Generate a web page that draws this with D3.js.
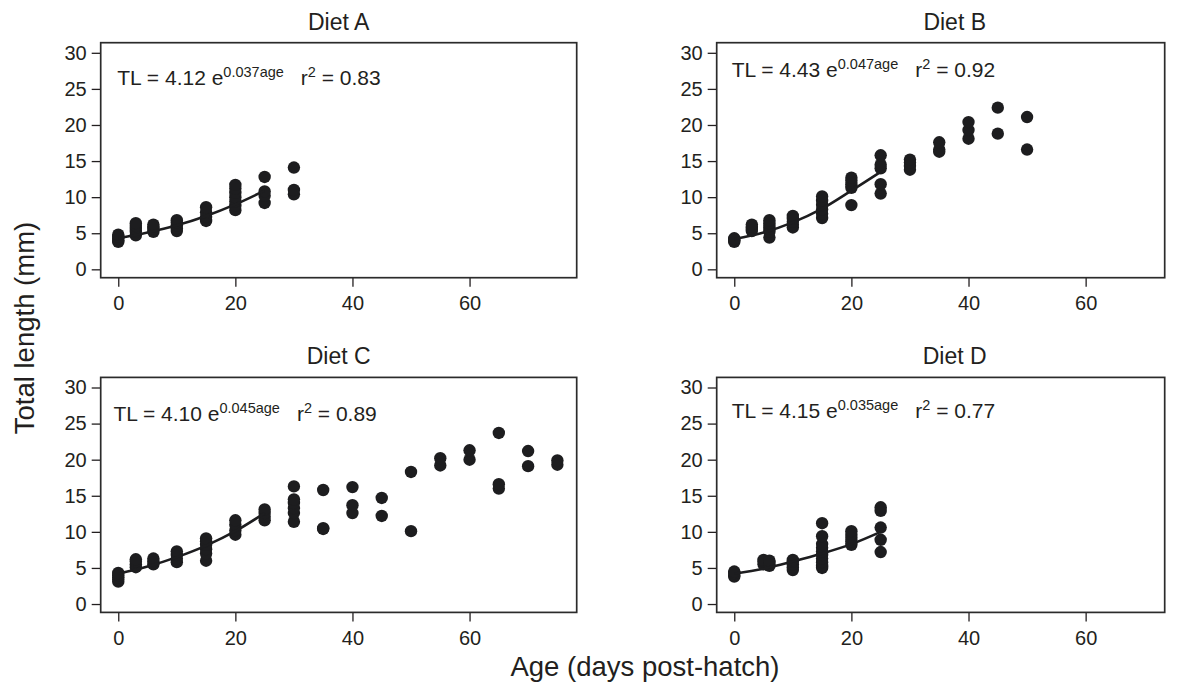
<!DOCTYPE html>
<html>
<head>
<meta charset="utf-8">
<script src="https://cdn.jsdelivr.net/npm/d3@7"></script>
<style>
  body{margin:0;background:#fff}
  svg{display:block;font-family:"Liberation Sans",Arial,Helvetica,sans-serif}
</style>
</head>
<body>
<script>
// ---- data ----
var panelNames = ["Diet A", "Diet B", "Diet C", "Diet D"];
var xTicks = [0, 20, 40, 60];
var yTicks = [0, 5, 10, 15, 20, 25, 30];

var agesA = [0, 3, 6, 10, 15, 20, 25, 30];
var lengthsA = [[3.8,4.0,4.3,4.5,4.8],[4.7,5.2,5.6,6.0,6.4],[5.2,5.6,5.9,6.2],[5.3,5.7,6.1,6.5,6.8],
  [6.7,7.3,7.9,8.6],[8.2,8.8,9.4,10.0,10.6,11.2,11.7],[9.2,10.2,10.8,12.8],[10.4,11.0,14.1]];

var agesB = [0, 3, 6, 10, 15, 20, 25, 30, 35, 40, 45, 50];
var lengthsB = [[3.8,4.0,4.2,4.3],[5.3,5.6,5.9,6.2],[4.4,5.2,5.6,6.0,6.4,6.8],[5.8,6.2,6.6,7.0,7.4],
  [7.1,7.7,8.3,8.9,9.5,10.1],[8.9,11.3,11.8,12.3,12.7],[10.5,11.8,14.0,14.5,15.8],[13.8,14.3,14.8,15.2],
  [16.3,16.6,17.6],[18.1,19.3,20.4],[18.8,22.4],[16.6,21.1]];

var agesC = [0, 3, 6, 10, 15, 20, 25, 30, 35, 40, 45, 50, 55, 60, 65, 70, 75];
var lengthsC = [[3.1,3.4,3.7,4.0,4.3],[5.1,5.5,5.9,6.2],[5.5,5.9,6.3],[5.8,6.3,6.8,7.3],
  [6.0,7.0,7.6,8.2,8.7,9.1],[9.6,10.2,11.0,11.6],[11.6,12.1,12.6,13.1],[11.4,12.6,13.3,14.0,14.5,16.3],
  [10.4,10.5,15.8],[12.6,13.7,16.2],[12.2,14.7],[10.1,18.3],[19.2,20.2],[20.0,21.3],[16.0,16.6,23.7],
  [19.1,21.2],[19.3,19.9]];

var agesD = [0, 5, 6, 10, 15, 20, 25];
var lengthsD = [[3.8,4.0,4.3,4.5],[5.5,5.9,6.1],[5.3,5.7,6.0],[4.7,5.1,5.5,5.9,6.1],
  [5.0,5.3,5.8,6.3,6.8,7.3,7.8,8.3,9.4,11.2],[8.2,8.7,9.2,9.6,10.1],[7.2,8.9,10.6,12.9,13.4]];

// fitted curves as drawn (0-25 days)
var fitAges = [0, 5, 10, 15, 20, 25];
var fitA = [4.3, 5.1, 6.1, 7.4, 9.0, 10.9];
var fitB = [4.2, 5.1, 6.5, 8.4, 10.9, 13.5];
var fitC = [4.2, 5.2, 6.5, 8.1, 10.1, 12.6];
var fitD = [4.2, 4.9, 5.9, 7.0, 8.3, 10.0];

// equation labels: coefficient, exponent, r2
var eqA = ["4.12", "0.037", "0.83"];
var eqB = ["4.43", "0.047", "0.92"];
var eqC = ["4.10", "0.045", "0.89"];
var eqD = ["4.15", "0.035", "0.77"];

// ---- layout ----
var W = 1187, H = 682;
var ink = "#231f20";
var panelH = 235;

var panels = [
  {name: panelNames[0], ages: agesA, lengths: lengthsA, fit: fitA, eq: eqA, left: 100.7, top: 42.7, width: 476, xMax: 78.3, eqX: 16.6, eqY: 42.3},
  {name: panelNames[1], ages: agesB, lengths: lengthsB, fit: fitB, eq: eqB, left: 716.7, top: 42.7, width: 448, xMax: 73.5, eqX: 15, eqY: 34.6},
  {name: panelNames[2], ages: agesC, lengths: lengthsC, fit: fitC, eq: eqC, left: 100.7, top: 377.4, width: 476, xMax: 78.3, eqX: 12.7, eqY: 43.4},
  {name: panelNames[3], ages: agesD, lengths: lengthsD, fit: fitD, eq: eqD, left: 716.7, top: 377.4, width: 448, xMax: 73.5, eqX: 15, eqY: 40.3}
];

var svg = d3.select("body").append("svg")
    .attr("width", W)
    .attr("height", H);

panels.forEach(function(p){
  var g = svg.append("g")
      .attr("transform", "translate(" + p.left + "," + p.top + ")");

  var x = d3.scaleLinear().domain([-3, p.xMax]).range([0, p.width]);
  var y = d3.scaleLinear().domain([-1.16, 31.4]).range([panelH, 0]);

  //Vertical axis
  var gy = g.append("g")
      .call(d3.axisLeft(y).tickValues(yTicks).tickSize(9).tickPadding(5));
  gy.select(".domain").remove();
  gy.selectAll("line").attr("stroke", ink).attr("stroke-width", 1.3);
  gy.selectAll("text").attr("fill", ink).style("font-size", "20px");

  //Horizontal axis
  var gx = g.append("g")
      .attr("transform", "translate(0," + panelH + ")")
      .call(d3.axisBottom(x).tickValues(xTicks).tickSize(9).tickPadding(9));
  gx.select(".domain").remove();
  gx.selectAll("line").attr("stroke", ink).attr("stroke-width", 1.3);
  gx.selectAll("text").attr("fill", ink).style("font-size", "20px");

  // box
  g.append("rect")
      .attr("width", p.width)
      .attr("height", panelH)
      .attr("fill", "none")
      .attr("stroke", "#2b2b2b")
      .attr("stroke-width", 1.7);

  // points
  var pts = [];
  p.ages.forEach(function(a, i){
    p.lengths[i].forEach(function(v){ pts.push([a, v]); });
  });
  g.selectAll("circle")
      .data(pts)
      .enter().append("circle")
      .attr("cx", function(d){ return x(d[0]); })
      .attr("cy", function(d){ return y(d[1]); })
      .attr("r", 6.2)
      .attr("fill", "#1d1d1f");

  // fitted curve
  var line = d3.line()
      .x(function(d, i){ return x(fitAges[i]); })
      .y(function(d){ return y(d); })
      .curve(d3.curveMonotoneX);
  g.append("path")
      .attr("d", line(p.fit))
      .attr("fill", "none")
      .attr("stroke", "#1d1d1f")
      .attr("stroke-width", 2.6);

  // title
  svg.append("text")
      .attr("x", p.left + 238)
      .attr("y", p.top - 13)
      .attr("text-anchor", "middle")
      .attr("fill", ink)
      .style("font-size", "23px")
      .text(p.name);

  // equation
  var t = g.append("text")
      .attr("x", p.eqX)
      .attr("y", p.eqY)
      .attr("fill", ink)
      .style("font-size", "21px");
  t.append("tspan").text("TL = " + p.eq[0] + " e");
  t.append("tspan").attr("dy", -8).style("font-size", "14.5px").text(p.eq[1] + "age");
  t.append("tspan").attr("dy", 8).attr("dx", 17).text("r");
  t.append("tspan").attr("dy", -8).style("font-size", "14.5px").text("2");
  t.append("tspan").attr("dy", 8).text(" = " + p.eq[2]);
});

// axis titles
svg.append("text")
    .attr("transform", "translate(34,328) rotate(-90)")
    .attr("text-anchor", "middle")
    .attr("fill", ink)
    .style("font-size", "27.5px")
    .text("Total length (mm)");

svg.append("text")
    .attr("x", 645)
    .attr("y", 676)
    .attr("text-anchor", "middle")
    .attr("fill", ink)
    .style("font-size", "27.5px")
    .text("Age (days post-hatch)");
</script>
</body>
</html>
